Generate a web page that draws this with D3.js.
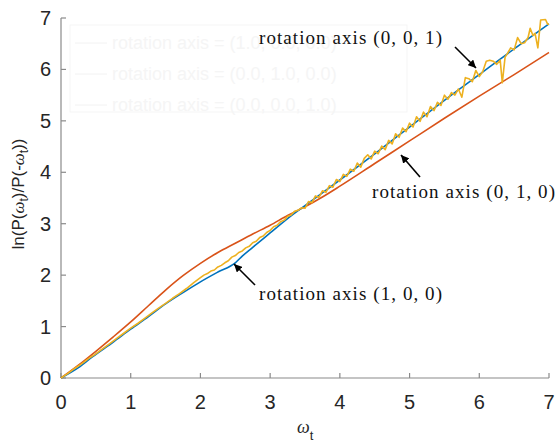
<!DOCTYPE html>
<html><head><meta charset="utf-8">
<script src="https://cdn.jsdelivr.net/npm/d3@7"></script>
<style>body{margin:0;background:#fff}svg{display:block}</style>
</head><body>
<script>
const xTicks = [0,1,2,3,4,5,6,7];
const yTicks = [0,1,2,3,4,5,6,7];
const seriesNames = ["rotation axis (1, 0, 0)", "rotation axis (0, 1, 0)", "rotation axis (0, 0, 1)"];
const legendLabels = ["rotation axis = (1.0, 0.0, 0.0)", "rotation axis = (0.0, 1.0, 0.0)", "rotation axis = (0.0, 0.0, 1.0)"];
const axis100 = [[0,0],[0.25,0.2],[0.45,0.41],[0.75,0.7],[1,0.95],[1.25,1.19],[1.5,1.44],[1.75,1.66],[2,1.87],[2.25,2.06],[2.5,2.24],[2.6,2.37],[2.75,2.54],[3,2.82],[3.25,3.1],[3.5,3.35],[4,3.85],[4.5,4.36],[5,4.88],[5.5,5.4],[6,5.9],[6.5,6.4],[7,6.885]];
const axis010 = [[0,0],[0.25,0.25],[0.5,0.52],[0.75,0.8],[1,1.09],[1.25,1.4],[1.5,1.71],[1.75,1.99],[2,2.23],[2.25,2.44],[2.5,2.62],[2.75,2.8],[3,2.97],[3.25,3.16],[3.5,3.33],[3.75,3.52],[4,3.73],[4.5,4.17],[5,4.61],[5.5,5.05],[6,5.48],[6.5,5.9],[7,6.33]];
const axis001 = [[0,0],[0.1,0.09],[0.2,0.19],[0.3,0.28],[0.4,0.38],[0.5,0.47],[0.6,0.57],[0.7,0.67],[0.8,0.77],[0.9,0.87],[1,0.97],[1.1,1.06],[1.2,1.16],[1.3,1.26],[1.4,1.36],[1.5,1.45],[1.6,1.55],[1.7,1.64],[1.8,1.74],[1.9,1.85],[2,1.95],[2.05,2.0],[2.1,2.03],[2.15,2.08],[2.2,2.1],[2.25,2.16],[2.3,2.19],[2.35,2.24],[2.4,2.28],[2.45,2.35],[2.5,2.38],[2.55,2.44],[2.6,2.47],[2.65,2.53],[2.7,2.56],[2.75,2.63],[2.8,2.66],[2.85,2.73],[2.9,2.76],[2.95,2.83],[3,2.87],[3.05,2.94],[3.1,2.97],[3.15,3.04],[3.2,3.07],[3.25,3.14],[3.3,3.17],[3.35,3.24],[3.4,3.26],
[3.45,3.31],[3.5,3.30],[3.55,3.43],[3.6,3.41],[3.65,3.54],[3.7,3.51],[3.75,3.64],[3.8,3.61],[3.85,3.74],[3.9,3.71],[3.95,3.86],[4,3.82],[4.05,3.96],[4.1,3.92],[4.15,4.06],[4.2,4.02],[4.25,4.18],[4.3,4.10],[4.35,4.27],[4.4,4.34],[4.45,4.26],[4.5,4.41],[4.55,4.36],[4.6,4.51],[4.65,4.44],[4.7,4.62],[4.75,4.55],[4.8,4.75],[4.85,4.68],[4.9,4.86],[4.95,4.79],[5,4.955],[5.05,4.88],[5.1,5.08],[5.15,4.99],[5.2,5.17],[5.25,5.08],[5.3,5.28],[5.35,5.20],[5.4,5.36],[5.45,5.30],[5.5,5.50],[5.55,5.42],[5.6,5.55],[5.65,5.50],[5.7,5.62],[5.75,5.46],[5.8,5.84],[5.85,5.82],[5.9,5.76],[5.95,5.98],[6,5.86],[6.05,5.96],[6.1,6.16],[6.15,6.18],[6.2,6.16],[6.25,6.10],[6.3,6.18],[6.33,5.74],[6.37,6.24],[6.4,6.30],[6.45,6.42],[6.5,6.38],[6.55,6.62],[6.6,6.50],[6.65,6.52],[6.7,6.62],[6.73,6.80],[6.77,6.66],[6.8,6.70],[6.84,6.42],[6.88,6.96],[6.95,6.97],[6.98,6.88],[7,6.88]];

const W = 555, H = 446;
const svg = d3.select("body").append("svg").attr("width", W).attr("height", H);
const x = d3.scaleLinear().domain([0,7]).range([61,549]);
const y = d3.scaleLinear().domain([0,7]).range([378,18]);

// faint legend ghost
const lg = svg.append("g");
lg.append("rect").attr("x",70).attr("y",25).attr("width",337).attr("height",87)
  .attr("fill","none").attr("stroke","#f5f5f5").attr("stroke-width",1);
legendLabels.forEach((t,i)=>{
  const yy = 43 + i*31;
  lg.append("line").attr("x1",75).attr("x2",107).attr("y1",yy).attr("y2",yy).attr("stroke","#f2f2f2").attr("stroke-width",1);
  lg.append("text").attr("x",112).attr("y",yy+6).attr("font-family","Liberation Sans, Arial, sans-serif")
    .attr("font-size",18).attr("fill","#f5f5f5").text(t);
});

// axes
const ax = svg.append("g").attr("stroke","#8a8a8a").attr("stroke-width",1.2);
ax.append("line").attr("x1",x(0)).attr("x2",x(7)).attr("y1",y(0)).attr("y2",y(0));
ax.append("line").attr("x1",x(0)).attr("x2",x(0)).attr("y1",y(0)).attr("y2",y(7));
xTicks.forEach(t=>{ ax.append("line").attr("x1",x(t)).attr("x2",x(t)).attr("y1",y(0)).attr("y2",y(0)-5); });
yTicks.forEach(t=>{ ax.append("line").attr("x1",x(0)).attr("x2",x(0)+5).attr("y1",y(t)).attr("y2",y(t)); });

const lab = svg.append("g").attr("font-family","Liberation Sans, Arial, sans-serif").attr("font-size",20).attr("fill","#262626");
xTicks.forEach(t=>{ lab.append("text").attr("x",x(t)).attr("y",409).attr("text-anchor","middle").text(t); });
yTicks.forEach(t=>{ lab.append("text").attr("x",51).attr("y",y(t)+7).attr("text-anchor","end").text(t); });

// lines
const line = d3.line().x(d=>x(d[0])).y(d=>y(d[1]));
const smooth = d3.line().x(d=>x(d[0])).y(d=>y(d[1])).curve(d3.curveMonotoneX);
svg.append("path").datum(axis010).attr("d",smooth).attr("fill","none").attr("stroke","#D95319").attr("stroke-width",1.6);
svg.append("path").datum(axis100).attr("d",smooth).attr("fill","none").attr("stroke","#0072BD").attr("stroke-width",1.6);
svg.append("path").datum(axis001).attr("d",line).attr("fill","none").attr("stroke","#EDB120").attr("stroke-width",1.6).attr("stroke-linejoin","round");

// y label
const yl = svg.append("text").attr("transform","translate(24,194) rotate(-90)").attr("text-anchor","middle")
  .attr("font-family","Liberation Sans, Arial, sans-serif").attr("font-size",17).attr("fill","#262626");
yl.append("tspan").text("ln(P(");
yl.append("tspan").attr("font-style","italic").attr("font-family","Liberation Serif, serif").text("ω");
yl.append("tspan").attr("font-size",12).attr("dy",4).text("t");
yl.append("tspan").attr("dy",-4).text(")/P(-");
yl.append("tspan").attr("font-style","italic").attr("font-family","Liberation Serif, serif").text("ω");
yl.append("tspan").attr("font-size",12).attr("dy",4).text("t");
yl.append("tspan").attr("dy",-4).text("))");

// x label
const xl = svg.append("text").attr("x",297).attr("y",433).attr("font-family","Liberation Serif, serif").attr("font-size",18).attr("fill","#262626");
xl.append("tspan").attr("font-style","italic").text("ω");
xl.append("tspan").attr("font-family","Liberation Sans, Arial, sans-serif").attr("font-size",13).attr("dy",7).text("t");

// annotations
svg.append("defs").append("marker").attr("id","ah").attr("viewBox","0 0 10 10").attr("refX",10).attr("refY",5)
  .attr("markerWidth",8).attr("markerHeight",8).attr("markerUnits","userSpaceOnUse").attr("orient","auto")
  .append("path").attr("d","M0,0 L10,5 L0,10 Z").attr("fill","#000");
const ann = [
  {t: seriesNames[2], tx:259, ty:44, x1:455, y1:47, x2:476, y2:68},
  {t: seriesNames[1], tx:372, ty:198, x1:420, y1:177, x2:401, y2:155},
  {t: seriesNames[0], tx:259, ty:300, x1:255, y1:285, x2:234, y2:264}
];
ann.forEach(a=>{
  svg.append("text").attr("x",a.tx).attr("y",a.ty).attr("font-family","Liberation Serif, serif").attr("font-size",19)
    .attr("textLength",183).attr("lengthAdjust","spacing").attr("fill","#111").text(a.t);
  svg.append("line").attr("x1",a.x1).attr("y1",a.y1).attr("x2",a.x2).attr("y2",a.y2).attr("stroke","#000").attr("stroke-width",1.6).attr("marker-end","url(#ah)");
});
</script>
</body></html>
